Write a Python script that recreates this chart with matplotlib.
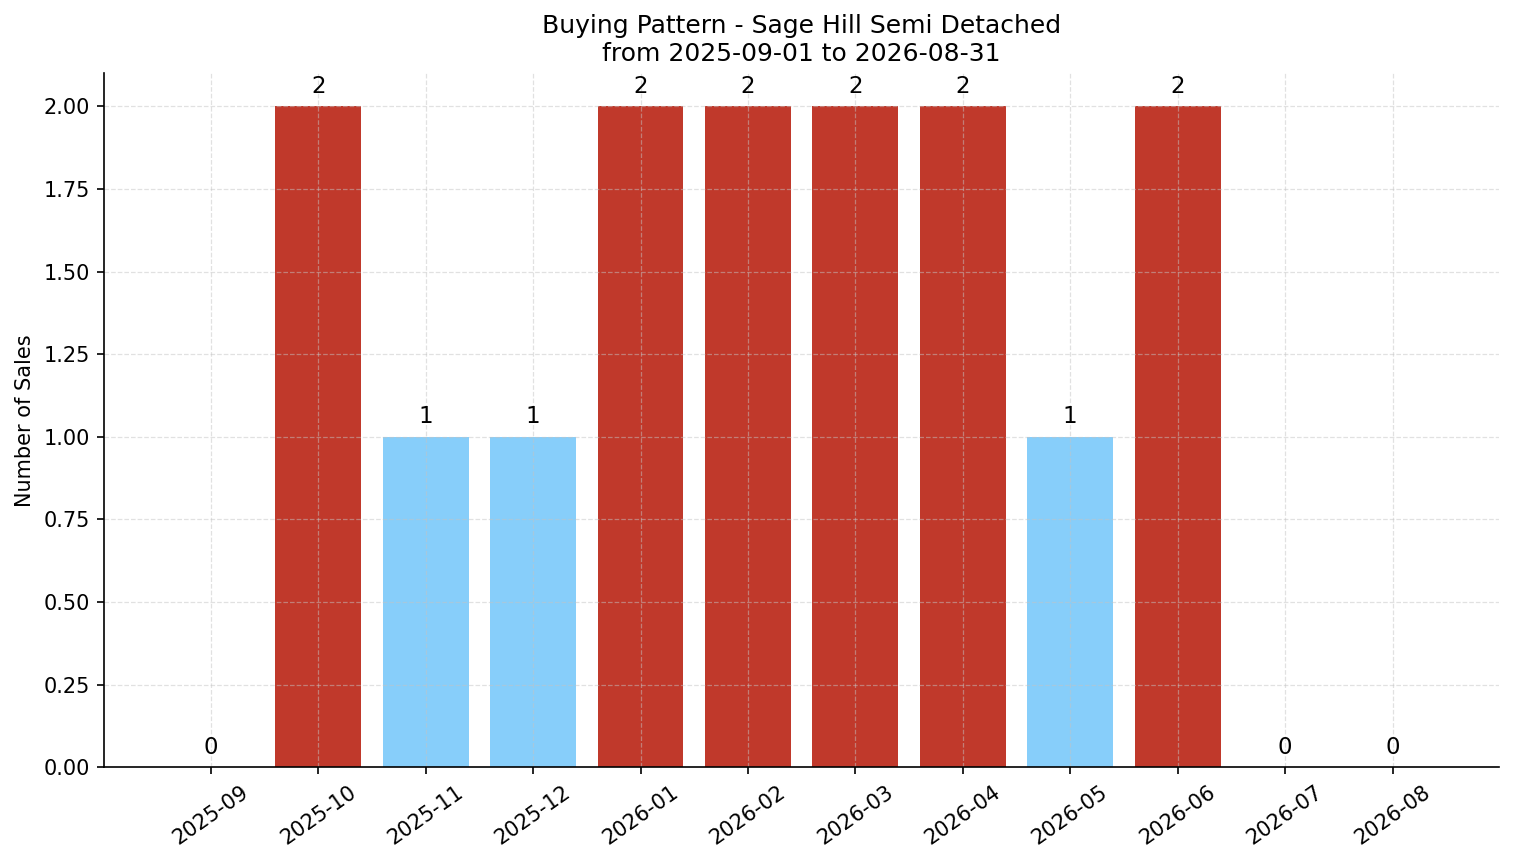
import matplotlib
matplotlib.use("Agg")
import matplotlib.pyplot as plt

months = ["2025-09", "2025-10", "2025-11", "2025-12", "2026-01", "2026-02",
          "2026-03", "2026-04", "2026-05", "2026-06", "2026-07", "2026-08"]
sales = [0, 2, 1, 1, 2, 2, 2, 2, 1, 2, 0, 0]

RED = "#C0392B"
BLUE = "#87CEFA"
colors = [RED if v >= 2 else BLUE for v in sales]

fig, ax = plt.subplots(figsize=(15.14 / 1.5, 8.63 / 1.5), dpi=150)
x = list(range(len(months)))
bars = ax.bar(x, sales, color=colors, width=0.8)
ax.bar_label(bars, labels=[str(v) for v in sales], padding=4, fontsize=11)
ax.set_xticks(x)
ax.set_xticklabels(months, rotation=35)
ax.set_ylabel("Number of Sales")
ax.set_title("Buying Pattern - Sage Hill Semi Detached\nfrom 2025-09-01 to 2026-08-31", fontsize=12)
ax.grid(True, linestyle="--", alpha=0.5, color="#c4c4c4", linewidth=0.6)
ax.spines["top"].set_visible(False)
ax.spines["right"].set_visible(False)
fig.subplots_adjust(left=0.0690, right=0.990, top=0.915, bottom=0.111)
fig.savefig("out.png", dpi=150)
